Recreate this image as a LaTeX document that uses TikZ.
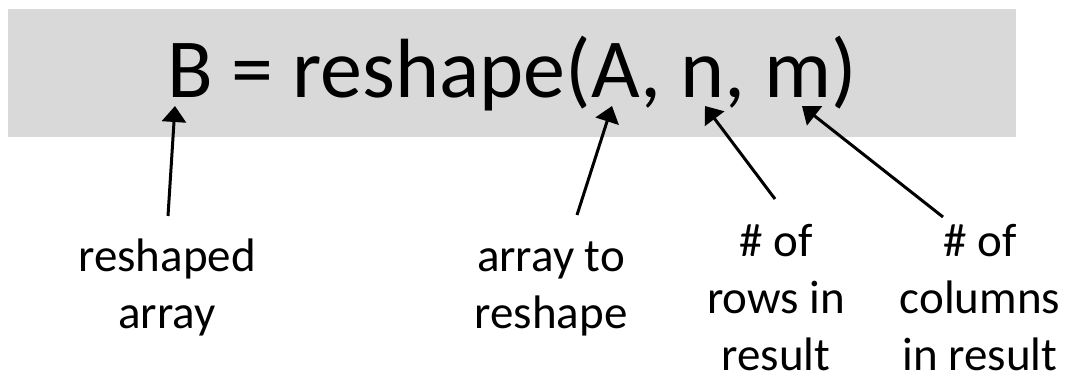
\documentclass[tikz,border=0pt]{standalone}
\usepackage{fontspec}
\setmainfont{Carlito}
\usetikzlibrary{arrows.meta}
\definecolor{bandgray}{HTML}{D9D9D9}
\begin{document}
\begin{tikzpicture}[x=1pt,y=-1pt,
  note/.style={align=center,anchor=base,inner sep=0pt,
    font=\fontsize{47}{57}\selectfont},
  pointer/.style={line width=3pt,-{Triangle[length=16pt,width=24pt]}}]
\useasboundingbox (0,0) rectangle (1069,374);
% grey band behind the call
\fill[bandgray] (8,9) rectangle (1016,137);
\node[anchor=base,inner sep=0pt,font=\fontsize{84}{100}\selectfont]
  (call) at (512,98) {B = reshape(A, n, m)};

% explanations under the call (placed by the baseline of their last line)
\node[note] (out)  at (167,328) {reshaped\\array};
\node[note] (arr)  at (551,328) {array to\\reshape};
\node[note] (rows) at (776,370) {\# of\\rows in\\result};
\node[note] (cols) at (980,370) {\# of\\columns\\in result};

% arrow ends
\coordinate (tipB) at (175,106);
\coordinate (tipA) at (612,106);
\coordinate (tipN) at (705,106);
\coordinate (tipM) at (802,106);
\coordinate (tailB) at (168,216);
\coordinate (tailA) at (577,215);
\coordinate (tailN) at (775,199);
\coordinate (tailM) at (943,217);

\draw[pointer] (tailB) -- (tipB);
\draw[pointer] (tailA) -- (tipA);
\draw[pointer] (tailN) -- (tipN);
\draw[pointer] (tailM) -- (tipM);
\end{tikzpicture}
\end{document}
